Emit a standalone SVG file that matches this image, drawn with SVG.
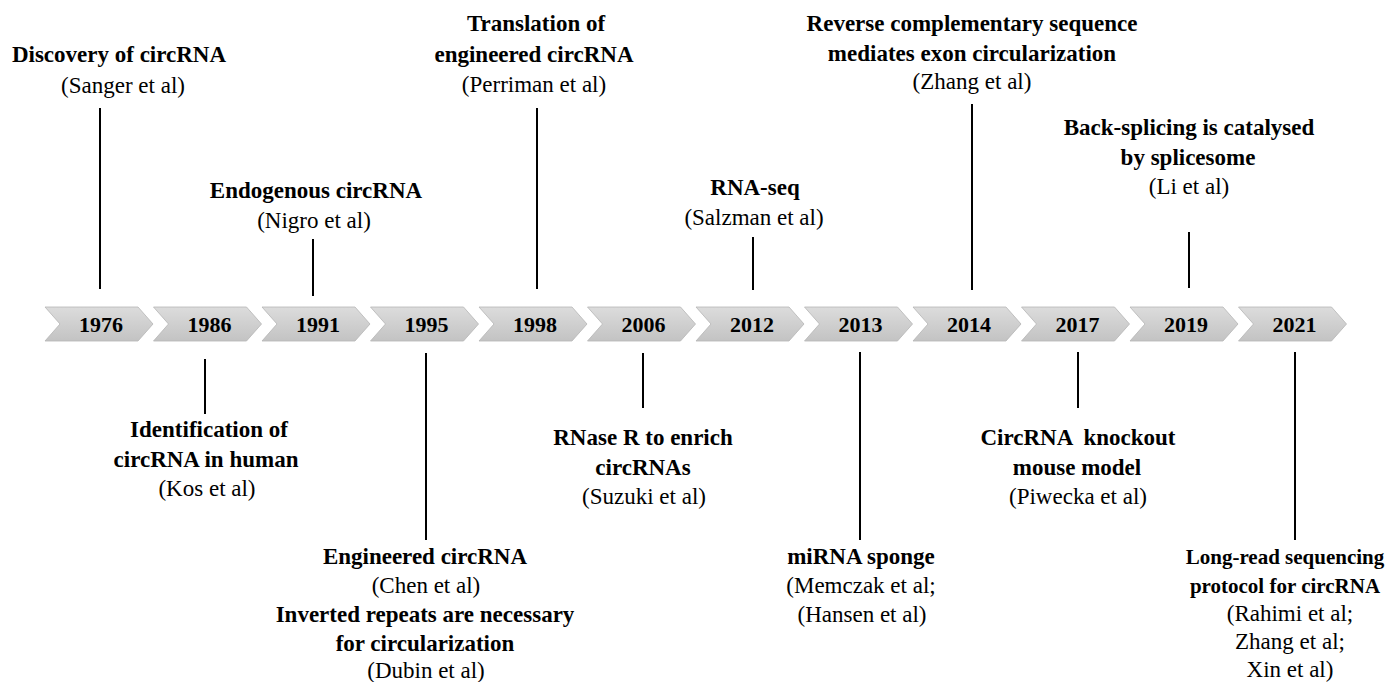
<svg xmlns="http://www.w3.org/2000/svg" width="1387" height="682" viewBox="0 0 1387 682">
<defs>
<linearGradient id="g" x1="0" y1="0" x2="0" y2="1">
<stop offset="0" stop-color="#dcdcdc"/>
<stop offset="1" stop-color="#c3c3c3"/>
</linearGradient>
<style>
.b{font-family:"Liberation Serif","Times New Roman",serif;font-weight:bold;font-size:23px;fill:#000;text-anchor:middle}
.r{font-family:"Liberation Serif","Times New Roman",serif;font-size:23px;fill:#000;text-anchor:middle}
.y{font-family:"Liberation Serif","Times New Roman",serif;font-weight:bold;font-size:22px;fill:#000;text-anchor:middle}
.s{font-size:21px}
.ch{fill:url(#g);stroke:#b5b5b5;stroke-width:0.8}
.ln{stroke:#000;stroke-width:2;fill:none}
</style>
<polygon id="chev" class="ch" points="0,307 93,307 108,324 93,341 0,341 15,324"/>
</defs>
<rect width="1387" height="682" fill="#fff"/>
<g id="bar">
<use href="#chev" x="45"/>
<use href="#chev" x="153.5"/>
<use href="#chev" x="262"/>
<use href="#chev" x="370.5"/>
<use href="#chev" x="479"/>
<use href="#chev" x="587.5"/>
<use href="#chev" x="696"/>
<use href="#chev" x="804.5"/>
<use href="#chev" x="913"/>
<use href="#chev" x="1021.5"/>
<use href="#chev" x="1130"/>
<use href="#chev" x="1238.5"/>
<text class="y" x="101" y="332">1976</text>
<text class="y" x="209.5" y="332">1986</text>
<text class="y" x="318" y="332">1991</text>
<text class="y" x="426.5" y="332">1995</text>
<text class="y" x="535" y="332">1998</text>
<text class="y" x="643.5" y="332">2006</text>
<text class="y" x="752" y="332">2012</text>
<text class="y" x="860.5" y="332">2013</text>
<text class="y" x="969" y="332">2014</text>
<text class="y" x="1077.5" y="332">2017</text>
<text class="y" x="1186" y="332">2019</text>
<text class="y" x="1294.5" y="332">2021</text>
</g>
<g id="connectors">
<line class="ln" x1="100" y1="108" x2="100" y2="289"/>
<line class="ln" x1="205" y1="359" x2="205" y2="414"/>
<line class="ln" x1="313" y1="239" x2="313" y2="296"/>
<line class="ln" x1="426" y1="353" x2="426" y2="540"/>
<line class="ln" x1="537" y1="108" x2="537" y2="289"/>
<line class="ln" x1="643" y1="353" x2="643" y2="408"/>
<line class="ln" x1="753" y1="237" x2="753" y2="290"/>
<line class="ln" x1="860" y1="352" x2="860" y2="540"/>
<line class="ln" x1="972" y1="104" x2="972" y2="290"/>
<line class="ln" x1="1078" y1="352" x2="1078" y2="408"/>
<line class="ln" x1="1189" y1="232" x2="1189" y2="288"/>
<line class="ln" x1="1295" y1="352" x2="1295" y2="540"/>
</g>
<g id="e1976"><text class="b" x="119" y="62">Discovery of circRNA</text><text class="r" x="123" y="93">(Sanger et al)</text></g>
<g id="e1986"><text class="b" x="209" y="437">Identification of</text><text class="b" x="206" y="467">circRNA in human</text><text class="r" x="207" y="496">(Kos et al)</text></g>
<g id="e1991"><text class="b" x="316" y="198">Endogenous circRNA</text><text class="r" x="314" y="228">(Nigro et al)</text></g>
<g id="e1995"><text class="b" x="425" y="564">Engineered circRNA</text><text class="r" x="426" y="593">(Chen et al)</text><text class="b" x="425" y="622">Inverted repeats are necessary</text><text class="b" x="425" y="651">for circularization</text><text class="r" x="426" y="678">(Dubin et al)</text></g>
<g id="e1998"><text class="b" x="536" y="31">Translation of</text><text class="b" x="534" y="62">engineered circRNA</text><text class="r" x="534" y="92">(Perriman et al)</text></g>
<g id="e2006"><text class="b" x="643" y="445">RNase R to enrich</text><text class="b" x="643" y="475">circRNAs</text><text class="r" x="644" y="504">(Suzuki et al)</text></g>
<g id="e2012"><text class="b" x="755" y="195">RNA-seq</text><text class="r" x="754" y="225">(Salzman et al)</text></g>
<g id="e2013"><text class="b" x="861" y="564">miRNA sponge</text><text class="r" x="861" y="593">(Memczak et al;</text><text class="r" x="862" y="622">(Hansen et al)</text></g>
<g id="e2014"><text class="b" x="972" y="31">Reverse complementary sequence</text><text class="b" x="972" y="61">mediates exon circularization</text><text class="r" x="972" y="89">(Zhang et al)</text></g>
<g id="e2017"><text class="b" x="1078" y="445" xml:space="preserve">CircRNA  knockout</text><text class="b" x="1077" y="475">mouse model</text><text class="r" x="1078" y="504">(Piwecka et al)</text></g>
<g id="e2019"><text class="b" x="1189" y="135">Back-splicing is catalysed</text><text class="b" x="1188" y="165">by splicesome</text><text class="r" x="1189" y="194">(Li et al)</text></g>
<g id="e2021"><text class="b s" x="1285" y="564">Long-read sequencing</text><text class="b s" x="1285" y="593">protocol for circRNA</text><text class="r" x="1290" y="621">(Rahimi et al;</text><text class="r" x="1290" y="649">Zhang et al;</text><text class="r" x="1290" y="677">Xin et al)</text></g>
</svg>
